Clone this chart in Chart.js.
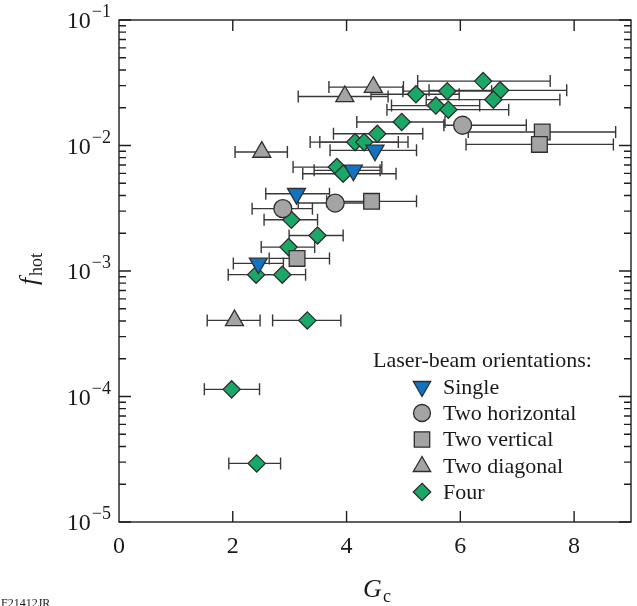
<!DOCTYPE html>
<html><head><meta charset="utf-8">
<script src="https://cdn.jsdelivr.net/npm/chart.js@4"></script>
<style>html,body{margin:0;padding:0;background:#fff}</style>
</head><body>
<canvas id="c" width="637" height="606" style="display:block;width:637px;height:606px"></canvas>
<script>
// ---- data ----
const seriesNames = ['Single','Two horizontal','Two vertical','Two diagonal','Four'];

const singleX  = [4.50, 4.12, 3.12, 2.45];
const singleY  = [0.00915, 0.00634, 0.00413, 0.00115];
const singleLo = [3.71, 3.43, 2.58, 2.01];
const singleHi = [5.23, 4.59, 3.70, 2.89];

const horizX  = [6.04, 3.80, 2.88];
const horizY  = [0.0145, 0.00348, 0.00314];
const horizLo = [5.71, 3.15, 2.34];
const horizHi = [7.16, 4.45, 3.40];

const vertX  = [7.44, 7.39, 4.44, 3.13];
const vertY  = [0.0128, 0.0102, 0.00359, 0.00126];
const vertLo = [6.14, 6.10, 3.65, 2.64];
const vertHi = [8.73, 8.69, 5.23, 3.70];

const diagX  = [4.47, 3.97, 2.51, 2.03];
const diagY  = [0.0292, 0.0246, 0.00887, 0.000404];
const diagLo = [3.69, 3.15, 2.04, 1.55];
const diagHi = [5.00, 4.73, 2.96, 2.48];

const fourX  = [6.40, 6.70, 5.22, 5.77, 5.57, 5.79, 6.58, 4.97, 4.54, 4.15, 4.31, 3.83, 3.94, 3.03, 3.49, 2.98, 2.41, 2.87, 3.31, 1.98, 2.42];
const fourY  = [0.0326, 0.0275, 0.0256, 0.0271, 0.0208, 0.0193, 0.0232, 0.0154, 0.0124, 0.01064, 0.01064, 0.00673, 0.00596, 0.00256, 0.00192, 0.00155, 0.000935, 0.000935, 0.000404, 0.000114, 0.0000293];
const fourLo = [5.25, 5.45, 4.43, 4.99, 4.79, 4.71, 5.40, 4.18, 3.77, 3.36, 3.53, 3.06, 3.23, 2.55, 2.99, 2.50, 1.92, 2.46, 2.70, 1.50, 1.93];
const fourHi = [7.58, 7.87, 5.98, 6.55, 6.34, 6.85, 7.75, 5.73, 5.34, 4.91, 5.08, 4.62, 4.87, 3.49, 3.94, 3.44, 2.88, 3.28, 3.90, 2.47, 2.84];

const xTickValues = [0, 2, 4, 6, 8];
const yDecades = [-1, -2, -3, -4, -5];

const BLUE = '#1273c0', GRAY = '#a4a4a4', GREEN = '#1aa866', EDGE = '#2e2e2e';

function pts(xs, ys, lo, hi){ return xs.map((v,i)=>({x:v, y:ys[i], xMin:lo[i], xMax:hi[i]})); }

const SERIF = '"Liberation Serif","Times New Roman",serif';

const errorBars = {
  id:'errorBars',
  beforeDatasetsDraw(chart){
    const {ctx, scales:{x, y}} = chart;
    ctx.save();
    ctx.strokeStyle = '#383838'; ctx.lineWidth = 1.4;
    chart.data.datasets.forEach(ds => {
      ds.data.forEach(p => {
        const py = y.getPixelForValue(p.y);
        const x1 = x.getPixelForValue(p.xMin), x2 = x.getPixelForValue(p.xMax);
        ctx.beginPath();
        ctx.moveTo(x1, py); ctx.lineTo(x2, py);
        ctx.moveTo(x1, py-6); ctx.lineTo(x1, py+6);
        ctx.moveTo(x2, py-6); ctx.lineTo(x2, py+6);
        ctx.stroke();
      });
    });
    ctx.restore();
  }
};

function legendMarker(ctx, kind, x, y, fill){
  ctx.save();
  ctx.fillStyle = fill; ctx.strokeStyle = EDGE; ctx.lineWidth = 1.3;
  ctx.beginPath();
  if (kind === 'down'){ const r=10; ctx.moveTo(x - r*0.866, y - r*0.55); ctx.lineTo(x + r*0.866, y - r*0.55); ctx.lineTo(x, y + r*0.95); ctx.closePath(); }
  else if (kind === 'up'){ const r=10; ctx.moveTo(x - r*0.866, y + r*0.55); ctx.lineTo(x + r*0.866, y + r*0.55); ctx.lineTo(x, y - r*0.95); ctx.closePath(); }
  else if (kind === 'circle'){ ctx.arc(x, y, 8.5, 0, Math.PI*2); }
  else if (kind === 'square'){ ctx.rect(x-7.7, y-7.7, 15.4, 15.4); }
  else if (kind === 'diamond'){ const r=8.7; ctx.moveTo(x, y-r); ctx.lineTo(x+r, y); ctx.lineTo(x, y+r); ctx.lineTo(x-r, y); ctx.closePath(); }
  ctx.fill(); ctx.stroke();
  ctx.restore();
}

const frame = {
  id:'frame',
  afterDraw(chart){
    const {ctx, chartArea:a, scales:{x, y}} = chart;
    ctx.save();
    ctx.strokeStyle = '#1e1e1e'; ctx.lineWidth = 1.4;
    ctx.strokeRect(a.left, a.top, a.right - a.left, a.bottom - a.top);
    ctx.beginPath();
    xTickValues.forEach(v => {
      if (v === 0) return;
      const px = x.getPixelForValue(v);
      ctx.moveTo(px, a.bottom); ctx.lineTo(px, a.bottom - 11);
      ctx.moveTo(px, a.top); ctx.lineTo(px, a.top + 11);
    });
    yDecades.forEach(d => {
      const py = y.getPixelForValue(Math.pow(10, d));
      ctx.moveTo(a.left, py); ctx.lineTo(a.left + 12, py);
      ctx.moveTo(a.right, py); ctx.lineTo(a.right - 12, py);
    });
    yDecades.forEach(d => {
      if (d === -1) return;
      for (let m = 2; m <= 9; m++){
        const py = y.getPixelForValue(m * Math.pow(10, d));
        ctx.moveTo(a.left, py); ctx.lineTo(a.left + 7, py);
        ctx.moveTo(a.right, py); ctx.lineTo(a.right - 7, py);
      }
    });
    ctx.stroke();

    ctx.fillStyle = '#1a1a1a';
    ctx.font = '24px ' + SERIF; ctx.textAlign = 'center'; ctx.textBaseline = 'alphabetic';
    xTickValues.forEach(v => { ctx.fillText(String(v), x.getPixelForValue(v), 553); });
    yDecades.forEach(d => {
      const py = y.getPixelForValue(Math.pow(10, d));
      const sup = '\u2212' + Math.abs(d);
      ctx.font = '18px ' + SERIF;
      const sw = ctx.measureText(sup).width;
      const right = 111;
      ctx.textAlign = 'left';
      ctx.fillText(sup, right - sw, py - 3);
      ctx.font = '24px ' + SERIF; ctx.textAlign = 'right';
      ctx.fillText('10', right - sw - 1, py + 8);
    });
    ctx.textAlign = 'left';
    ctx.font = 'italic 26px ' + SERIF;
    const gW = ctx.measureText('G').width;
    ctx.font = '18px ' + SERIF;
    const cW = ctx.measureText('c').width;
    const gx = 377 - (gW + cW + 1)/2;
    ctx.font = 'italic 26px ' + SERIF; ctx.fillText('G', gx, 597);
    ctx.font = '18px ' + SERIF; ctx.fillText('c', gx + gW + 1, 602);
    ctx.save();
    ctx.translate(37, 269); ctx.rotate(-Math.PI/2);
    ctx.font = 'italic 26px ' + SERIF;
    const fW = ctx.measureText('f').width;
    ctx.font = '18px ' + SERIF;
    const hW = ctx.measureText('hot').width;
    const fx = -(fW + hW + 2)/2;
    ctx.font = 'italic 26px ' + SERIF; ctx.fillText('f', fx, 0);
    ctx.font = '18px ' + SERIF; ctx.fillText('hot', fx + fW + 2, 5);
    ctx.restore();
    ctx.font = '12px ' + SERIF; ctx.textAlign = 'left';
    ctx.fillText('F21412JR', 1, 607);

    ctx.font = '22px ' + SERIF; ctx.textAlign = 'left'; ctx.textBaseline = 'middle';
    ctx.fillText('Laser-beam orientations:', 373, 361);
    const kinds = ['down','circle','square','up','diamond'];
    const fills = [BLUE, GRAY, GRAY, GRAY, GREEN];
    const rows = [387, 413, 439.5, 466, 492];
    seriesNames.forEach((n, i) => {
      legendMarker(ctx, kinds[i], 422, rows[i], fills[i]);
      ctx.fillStyle = '#1a1a1a';
      ctx.fillText(n, 443, rows[i] + 1);
    });
    ctx.restore();
  }
};

const common = { borderColor: EDGE, borderWidth: 1.3, showLine:false };

new Chart(document.getElementById('c'), {
  type: 'scatter',
  data: {
    datasets: [
      Object.assign({ label: seriesNames[0], data: pts(singleX, singleY, singleLo, singleHi), pointStyle:'triangle', rotation:180, pointRadius:10.4, backgroundColor: BLUE }, common),
      Object.assign({ label: seriesNames[1], data: pts(horizX, horizY, horizLo, horizHi), pointStyle:'circle', pointRadius:9, backgroundColor: GRAY }, common),
      Object.assign({ label: seriesNames[2], data: pts(vertX, vertY, vertLo, vertHi), pointStyle:'rect', pointRadius:11.1, backgroundColor: GRAY }, common),
      Object.assign({ label: seriesNames[3], data: pts(diagX, diagY, diagLo, diagHi), pointStyle:'triangle', pointRadius:10.4, backgroundColor: GRAY }, common),
      Object.assign({ label: seriesNames[4], data: pts(fourX, fourY, fourLo, fourHi), pointStyle:'rectRot', pointRadius:8.6, backgroundColor: GREEN }, common)
    ]
  },
  options: {
    responsive: false,
    animation: false,
    devicePixelRatio: 1,
    layout: { autoPadding: false, padding: { left: 119, right: 6, top: 20, bottom: 84 } },
    scales: {
      x: { type:'linear', display:false, min:0, max:9 },
      y: { type:'logarithmic', display:false, min:1e-5, max:1e-1 }
    },
    plugins: { legend:{display:false}, tooltip:{enabled:false} },
    elements: { point: { hoverRadius: 0 } }
  },
  plugins: [errorBars, frame]
});
</script>
</body></html>
